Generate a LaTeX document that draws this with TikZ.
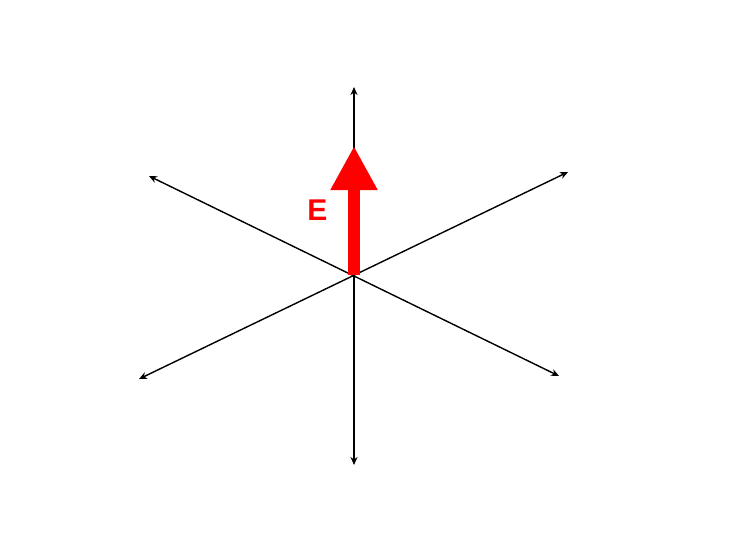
\documentclass[tikz,border=0pt]{standalone}
\usepackage{fontspec}
\setmainfont{Liberation Sans}
\usetikzlibrary{arrows.meta}
\begin{document}
\begin{tikzpicture}[x=1pt,y=-1pt,
  axis/.style={line width=1.4pt,{Stealth[length=8pt,width=7pt]}-{Stealth[length=8pt,width=7pt]}},
  efield/.style={draw=red,line width=11.5pt,-{Triangle[length=44pt,width=44pt]}}]
\useasboundingbox (0,0) rectangle (741,551);
\coordinate (O) at (354,273);
\coordinate (top) at (354,87);
\coordinate (bot) at (354,465);
\coordinate (ul) at (149,176);
\coordinate (lr) at (559,376);
\coordinate (ur) at (568,172);
\coordinate (ll) at (139,379);
\coordinate (Ebase) at (354,275);
\coordinate (Etip) at (354,146);
\draw[axis] (top) -- (bot);
\draw[axis] (ul) -- (lr);
\draw[axis] (ur) -- (ll);
\draw[efield] (Ebase) -- (Etip);
\node[text=red,font=\bfseries\fontsize{30}{30}\selectfont,inner sep=0pt] (E) at (317.5,210.5) {E};
\end{tikzpicture}
\end{document}
